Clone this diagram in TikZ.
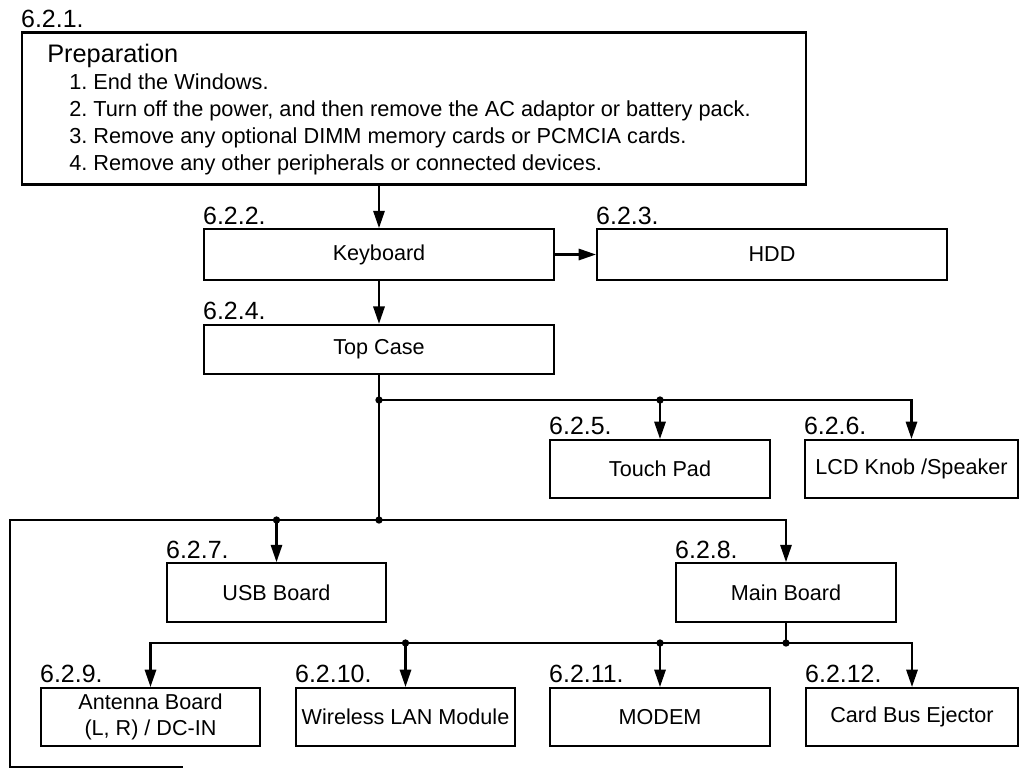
\documentclass[tikz,border=0pt]{standalone}
\usepackage{fontspec}
\setmainfont{Liberation Sans}
\usetikzlibrary{arrows.meta,positioning,calc}
\frenchspacing
\tikzset{
  partbox/.style={draw=black, line width=1.6pt, inner sep=0pt, align=center, font=\fontsize{16.2}{19}\selectfont},
  numlabel/.style={anchor=base west, inner sep=0pt, yshift=3pt, font=\fontsize{18.7}{22}\selectfont},
  flow/.style={-{Triangle[length=13pt,width=8.5pt]}, line width=1.6pt},
  bus/.style={line width=1.6pt},
  joint/.style={circle, fill=black, inner sep=0pt, minimum size=5.5pt}
}
\begin{document}
\begin{tikzpicture}[x=0.75pt, y=-0.75pt]
\useasboundingbox (0,0) rectangle (1020,769);
% preparation
\node[partbox, minimum width=588pt, minimum height=114pt] (prep) at (414,108.5) {};
\node[numlabel] (l1) at (prep.north west) {6.2.1.};
\node[anchor=base west, inner sep=0pt, font=\fontsize{19}{23}\selectfont] (preptitle) at (47,62) {Preparation};
\node[anchor=north west, inner sep=0pt, align=left, font=\fontsize{16.3}{20.25}\selectfont] (preplist) at (69,73)
  {1. End the Windows.\\
   2. Turn off the power, and then remove the AC adaptor or battery pack.\\
   3. Remove any optional DIMM memory cards or PCMCIA cards.\\
   4. Remove any other peripherals or connected devices.};
% parts
\node[partbox, minimum width=262.5pt, minimum height=38pt] (kbd) at (379,254.5) {Keyboard};
\node[partbox, minimum width=262.5pt, minimum height=38pt] (hdd) at (772,254.5) {HDD};
\node[partbox, minimum width=262.5pt, minimum height=37pt] (top) at (379,349.5) {Top Case};
\node[partbox, minimum width=165pt, minimum height=43.5pt] (touch) at (660,469) {Touch Pad};
\node[partbox, minimum width=160pt, minimum height=43.5pt] (lcd) at (911.5,469) {LCD Knob /Speaker};
\node[partbox, minimum width=164.25pt, minimum height=44pt] (usb) at (276.5,592.5) {USB Board};
\node[partbox, minimum width=165pt, minimum height=44pt] (main) at (786,592.5) {Main Board};
\node[partbox, minimum width=164.25pt, minimum height=43.5pt] (ant) at (150.5,717) {Antenna Board\\(L, R) / DC-IN};
\node[partbox, minimum width=164.25pt, minimum height=43.5pt] (wlan) at (405.5,717) {Wireless LAN Module};
\node[partbox, minimum width=165pt, minimum height=43.5pt] (modem) at (660,717) {MODEM};
\node[partbox, minimum width=159pt, minimum height=43.5pt] (card) at (912,717) {Card Bus Ejector};
% section numbers
\node[numlabel] (l2) at (kbd.north west) {6.2.2.};
\node[numlabel] (l3) at (hdd.north west) {6.2.3.};
\node[numlabel] (l4) at (top.north west) {6.2.4.};
\node[numlabel] (l5) at (touch.north west) {6.2.5.};
\node[numlabel] (l6) at (lcd.north west) {6.2.6.};
\node[numlabel] (l7) at (usb.north west) {6.2.7.};
\node[numlabel] (l8) at (main.north west) {6.2.8.};
\node[numlabel] (l9) at (ant.north west) {6.2.9.};
\node[numlabel] (l10) at (wlan.north west) {6.2.10.};
\node[numlabel] (l11) at (modem.north west) {6.2.11.};
\node[numlabel] (l12) at (card.north west) {6.2.12.};
% connectors
\draw[flow] (kbd.north |- prep.south) -- (kbd.north);
\draw[flow] (kbd.east) -- (hdd.west);
\draw[flow] (kbd.south) -- (top.north);
\coordinate (j1) at (top.south |- 0,400);
\coordinate (j2) at (top.south |- 0,520);
\coordinate (j3) at (main.south |- 0,643);
\coordinate (leftbus) at (10,520);
\coordinate (tailend) at (183,767);
\draw[bus] (top.south) -- (j2);
\draw[flow] (j1) -- (lcd.north |- j1) -- (lcd.north);
\draw[flow] (touch.north |- j1) -- (touch.north);
\draw[bus] (j2) -- (leftbus) |- (tailend);
\draw[flow] (j2) -- (main.north |- j2) -- (main.north);
\draw[flow] (usb.north |- j2) -- (usb.north);
\draw[bus] (main.south) -- (j3);
\draw[flow] (j3) -- (card.north |- j3) -- (card.north);
\draw[flow] (j3) -- (ant.north |- j3) -- (ant.north);
\draw[flow] (wlan.north |- j3) -- (wlan.north);
\draw[flow] (modem.north |- j3) -- (modem.north);
% junction dots
\node[joint] (d1) at (j1) {};
\node[joint] (d2) at (touch.north |- j1) {};
\node[joint] (d3) at (j2) {};
\node[joint] (d4) at (usb.north |- j2) {};
\node[joint] (d5) at (j3) {};
\node[joint] (d6) at (wlan.north |- j3) {};
\node[joint] (d7) at (modem.north |- j3) {};
\end{tikzpicture}
\end{document}
